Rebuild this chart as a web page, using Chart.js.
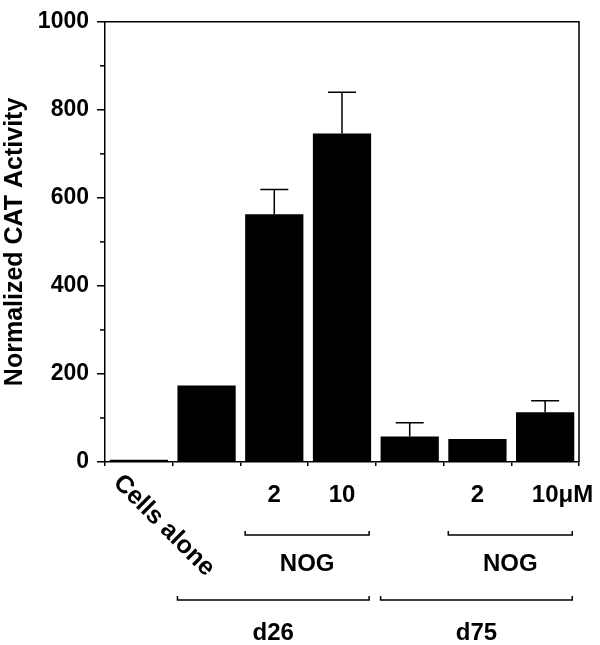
<!DOCTYPE html>
<html>
<head>
<meta charset="utf-8">
<script src="https://cdn.jsdelivr.net/npm/chart.js@4"></script>
<style>
  html, body { margin: 0; padding: 0; background: #fff; }
  #wrap { width: 600px; height: 645px; }
</style>
</head>
<body>
<div id="wrap"><canvas id="cat"></canvas></div>
<script>
// Données
const categories = ['Cells alone', 'd26', 'd26 NOG 2', 'd26 NOG 10', 'd75', 'd75 NOG 2', 'd75 NOG 10'];
const catActivity = [5, 174, 563, 746, 58, 52, 113];
const errorUp = [null, null, 56, 94, 31, null, 26];
const doseLabels = ['', '', '2', '10', '', '2', '10μM'];
const yTicks = [0, 200, 400, 600, 800, 1000];
const nogGroups = [{ from: 2, to: 3, label: 'NOG' }, { from: 5, to: 6, label: 'NOG' }];
const dayGroups = [{ from: 1, to: 3, label: 'd26' }, { from: 4, to: 6, label: 'd75' }];

const FONT = '"Liberation Sans", Arial, sans-serif';

// Barres d'erreur, cadre, libellés et accolades
const annotations = {
    id: 'annotations',
    afterDatasetsDraw(chart) {
        const ctx = chart.ctx;
        const x = chart.scales.x;
        const y = chart.scales.y;
        const meta = chart.getDatasetMeta(0);
        const area = chart.chartArea;

        ctx.save();
        ctx.strokeStyle = '#000';
        ctx.lineWidth = 1.5;

        // barres d'erreur
        errorUp.forEach((e, i) => {
            if (e == null) return;
            const bar = meta.data[i];
            const top = y.getPixelForValue(catActivity[i] + e);
            ctx.beginPath();
            ctx.moveTo(bar.x, bar.y);
            ctx.lineTo(bar.x, top);
            ctx.moveTo(bar.x - 14, top);
            ctx.lineTo(bar.x + 14, top);
            ctx.stroke();
        });

        // cadre haut et droite
        ctx.beginPath();
        ctx.moveTo(area.left, area.top);
        ctx.lineTo(area.right, area.top);
        ctx.lineTo(area.right, area.bottom);
        ctx.stroke();

        // petites graduations
        for (let v = 100; v < 1000; v += 200) {
            const py = y.getPixelForValue(v);
            ctx.beginPath();
            ctx.moveTo(area.left - 5, py);
            ctx.lineTo(area.left, py);
            ctx.stroke();
        }

        ctx.fillStyle = '#000';
        ctx.font = 'bold 24px ' + FONT;
        ctx.textBaseline = 'middle';

        // doses : le nombre est centré sous la barre, l'unité déborde à droite
        doseLabels.forEach((lab, i) => {
            if (!lab) return;
            const cx = x.getPixelForValue(i);
            const num = lab.match(/^\d+/)[0];
            const w = ctx.measureText(num).width;
            ctx.textAlign = 'left';
            ctx.fillText(lab, cx - w / 2, 495);
        });

        // Cells alone en diagonale
        ctx.save();
        ctx.font = 'bold 25px ' + FONT;
        ctx.translate(x.getPixelForValue(0) - 13, 470);
        ctx.rotate(Math.PI / 4);
        ctx.textAlign = 'left';
        ctx.textBaseline = 'top';
        ctx.fillText(categories[0], 0, 0);
        ctx.restore();

        const halfBar = meta.data[0].width / 2;
        const bracket = (g, yLine, yText) => {
            const x0 = x.getPixelForValue(g.from) - halfBar;
            const x1 = x.getPixelForValue(g.to) + halfBar - 2;
            ctx.beginPath();
            ctx.moveTo(x0, yLine - 4);
            ctx.lineTo(x0, yLine);
            ctx.lineTo(x1, yLine);
            ctx.lineTo(x1, yLine - 4);
            ctx.stroke();
            ctx.textAlign = 'center';
            ctx.fillText(g.label, (x0 + x1) / 2, yText);
        };
        nogGroups.forEach(g => bracket(g, 535, 564));
        dayGroups.forEach(g => bracket(g, 600, 633));

        ctx.restore();
    }
};

new Chart(document.getElementById('cat'), {
    type: 'bar',
    data: {
        labels: categories,
        datasets: [{
            data: catActivity,
            backgroundColor: '#000',
            borderWidth: 0,
            categoryPercentage: 1,
            barPercentage: 0.86,
        }]
    },
    options: {
        responsive: true,
        maintainAspectRatio: false,
        animation: false,
        layout: { padding: { top: 10, right: 21, left: 0, bottom: 0 } },
        plugins: {
            legend: { display: false },
            tooltip: { enabled: false },
        },
        scales: {
            x: {
                grid: {
                    drawOnChartArea: false,
                    color: '#000',
                    lineWidth: 1.5,
                    tickLength: 4,
                    offset: true,
                },
                border: { color: '#000', width: 1.5 },
                ticks: { display: false },
                afterFit: s => { s.height = 183; },
            },
            y: {
                min: 0,
                max: 1000,
                afterBuildTicks: s => { s.ticks = yTicks.map(v => ({ value: v })); },
                grid: {
                    drawOnChartArea: false,
                    color: '#000',
                    lineWidth: 1.5,
                    tickLength: 8,
                },
                border: { color: '#000', width: 1.5 },
                ticks: {
                    color: '#000',
                    padding: 8,
                    font: { family: FONT, size: 23, weight: 'bold' },
                    callback: v => String(v),
                },
                title: {
                    display: true,
                    text: 'Normalized CAT Activity',
                    color: '#000',
                    padding: 0,
                    font: { family: FONT, size: 25, weight: 'bold' },
                },
                afterFit: s => { s.width = 105; },
            }
        }
    },
    plugins: [annotations]
});
</script>
</body>
</html>
